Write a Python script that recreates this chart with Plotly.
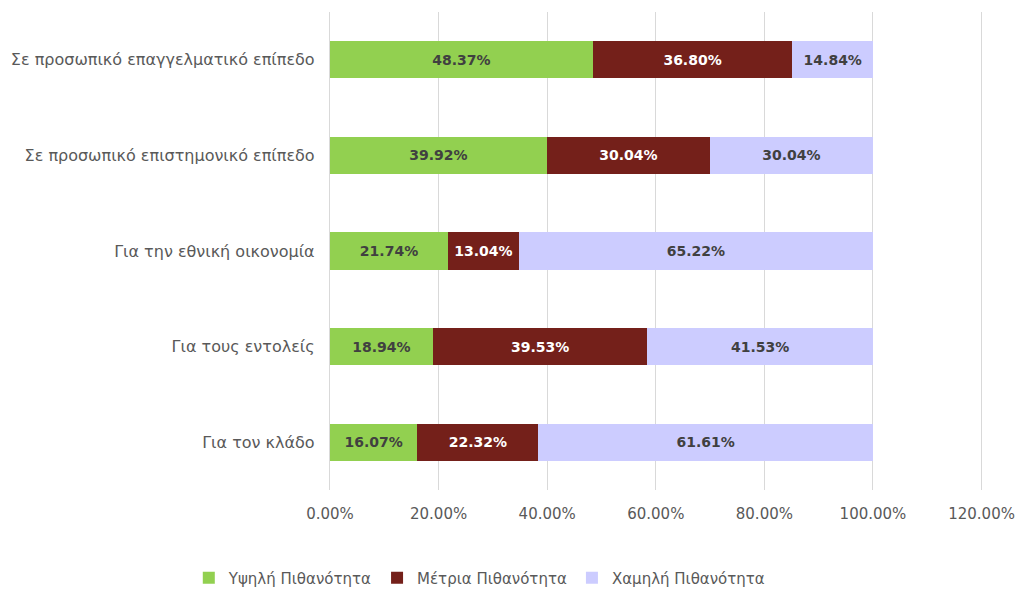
import plotly.graph_objects as go

categories = [
    "Σε προσωπικό επαγγελματικό επίπεδο",
    "Σε προσωπικό επιστημονικό επίπεδο",
    "Για την εθνική οικονομία",
    "Για τους εντολείς",
    "Για τον κλάδο",
]
high = [48.37, 39.92, 21.74, 18.94, 16.07]
medium = [36.80, 30.04, 13.04, 39.53, 22.32]
low = [14.84, 30.04, 65.22, 41.53, 61.61]
series_names = ["Υψηλή Πιθανότητα", "Μέτρια Πιθανότητα", "Χαμηλή Πιθανότητα"]
tick_vals = [0, 20, 40, 60, 80, 100, 120]
tick_text = ["0.00%", "20.00%", "40.00%", "60.00%", "80.00%", "100.00%", "120.00%"]

colors = ["#92D050", "#74201A", "#CCCCFF"]
text_colors = ["#404040", "#FFFFFF", "#404040"]
FONT = "DejaVu Sans"

fig = go.Figure()
for name, vals, c, tc in zip(series_names, [high, medium, low], colors, text_colors):
    fig.add_trace(go.Bar(
        y=categories, x=vals, name=name, orientation="h",
        marker=dict(color=c, line=dict(width=0)),
        text=[f"{v:.2f}%" for v in vals],
        textposition="inside", insidetextanchor="middle",
        textfont=dict(family=FONT, size=14, color=tc, weight="bold"),
        width=0.39, hoverinfo="skip",
    ))

fig.update_layout(
    barmode="stack",
    width=1017, height=589,
    margin=dict(l=330, r=30, t=12, b=99, autoexpand=False),
    plot_bgcolor="white", paper_bgcolor="white",
    font=dict(family=FONT, size=14, color="#595959"),
    uniformtext=dict(minsize=14, mode="show"),
    xaxis=dict(range=[0, 121], tickvals=tick_vals, ticktext=tick_text,
               showgrid=True, gridcolor="#D9D9D9", gridwidth=1.3,
               zeroline=False, showline=False, ticks="",
               ticklabelstandoff=13, automargin=False,
               tickfont=dict(family=FONT, size=15, color="#595959")),
    yaxis=dict(categoryorder="array", categoryarray=categories, autorange="reversed",
               showline=True, linecolor="#D9D9D9", linewidth=1.3,
               ticks="", ticklabelstandoff=11, automargin=False,
               tickfont=dict(family=FONT, size=16, color="#595959")),
    legend=dict(orientation="h", x=0.228, xanchor="center",
                yref="container", y=0.0187, yanchor="middle",
                font=dict(family=FONT, size=15, color="#595959"), traceorder="normal"),
    showlegend=True,
)

fig.write_html("out.html", config={"displayModeBar": False},
               post_script="document.body.style.margin='0';document.body.style.overflow='hidden';")
